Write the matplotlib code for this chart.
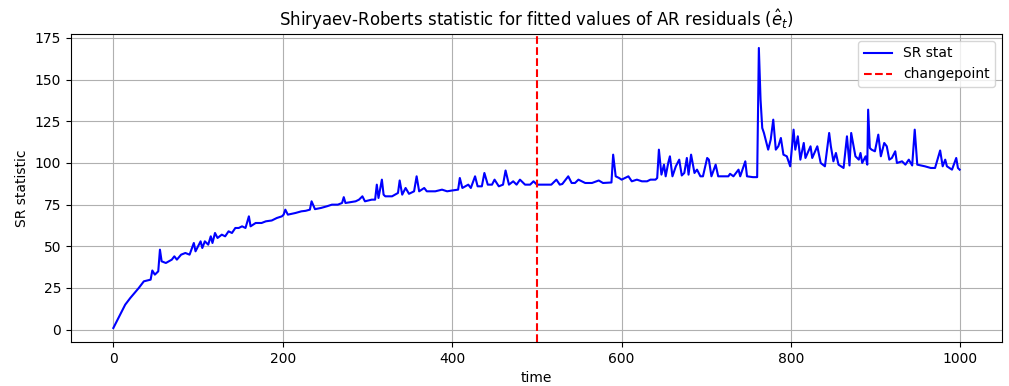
import matplotlib
matplotlib.use("Agg")
import matplotlib.pyplot as plt

# SR statistic (time, value)
time = [0, 5, 10, 14, 20, 25, 30, 36, 44, 46, 49, 53, 55, 57, 62, 69, 72, 75, 80, 85,
        90, 95, 97, 100, 103, 105, 108, 112, 115, 117, 120, 123, 128, 132, 136, 140, 144, 148, 152, 156,
        160, 162, 168, 175, 180, 187, 193, 199, 201, 203, 206, 215, 222, 227, 232, 234, 238, 245, 252, 258,
        265, 270, 272, 274, 280, 286, 290, 294, 297, 305, 309, 311, 313, 317, 319, 321, 329, 336, 338, 341,
        345, 349, 355, 358, 361, 367, 370, 374, 380, 384, 388, 394, 400, 407, 409, 412, 419, 422, 427, 430,
        435, 438, 442, 447, 450, 455, 460, 463, 467, 472, 476, 480, 486, 492, 496, 500, 510, 517, 523, 527,
        530, 537, 541, 545, 549, 557, 565, 573, 578, 588, 590, 593, 597, 600, 604, 608, 612, 618, 624, 630,
        634, 640, 642, 644, 647, 650, 652, 655, 657, 660, 664, 668, 671, 674, 677, 679, 682, 686, 689, 693,
        696, 701, 703, 706, 711, 714, 720, 726, 728, 732, 738, 740, 746, 748, 755, 760, 762, 764, 766, 768,
        770, 773, 776, 779, 782, 785, 788, 791, 795, 799, 803, 805, 808, 811, 815, 817, 823, 825, 831, 835,
        840, 845, 847, 850, 853, 856, 862, 866, 869, 871, 876, 880, 882, 884, 888, 890, 891, 893, 895, 899,
        903, 906, 910, 913, 916, 919, 923, 925, 931, 935, 939, 943, 946, 949, 958, 965, 970, 976, 979, 982,
        984, 990, 995, 997, 999]
sr_stat = [1, 6, 11, 15, 19, 22, 25, 29, 30, 35.5, 33, 35, 48, 41, 40, 42, 44, 42, 45, 46,
           45, 52, 47, 50, 53, 49, 53, 51, 56, 52, 58, 55, 57, 56, 59, 58, 61, 61, 62, 61,
           68, 62, 64, 64, 65, 65.5, 67, 68, 69, 72, 69, 70, 71, 71.3, 72, 77, 72.3, 73, 74, 75,
           75, 76, 79.5, 76, 76.5, 77, 78, 80, 77, 78, 78, 87, 79, 90, 81, 80, 80, 82, 89.5, 81,
           85, 81.5, 83, 92, 83, 85, 83, 83, 83, 83.5, 84, 83, 83.5, 84, 91, 85, 87, 85, 92, 86,
           86, 94, 87, 87, 90, 86, 87, 95.5, 87, 89, 87, 90, 87, 87, 89, 87, 87, 87, 90, 87,
           87.4, 92, 88, 88, 90, 88, 88, 89.5, 88, 88.3, 105, 92, 91, 90, 91, 92, 89, 90, 89, 89,
           90, 90, 91, 108, 93, 99, 92, 100, 104, 92, 98, 102, 92.5, 94, 103, 93, 105, 94, 96, 92,
           92, 103, 102, 92, 99, 92, 92, 92, 93.5, 92, 96, 92, 101, 92, 91.5, 91.5, 169, 138, 121, 118,
           114, 108, 114, 126, 108, 110, 115, 105, 104, 98, 120, 108, 116, 102, 112, 103, 110, 103, 110, 100,
           98, 118, 110, 101, 106, 99, 97, 116, 98.5, 118, 104, 102, 106, 100, 104, 99, 132, 109, 108, 107,
           117, 104, 112, 110, 102, 103, 107, 100, 101, 99, 102, 98.5, 120, 99, 98, 97, 97, 107.5, 98, 102,
           98, 96, 103, 97, 96]
changepoint = 500

fig = plt.figure(figsize=(10.09, 3.86), dpi=100)
ax = fig.add_axes([0.0704, 0.114, 0.9226, 0.798])

ax.plot(time, sr_stat, color="blue", label="SR stat")
ax.axvline(changepoint, color="red", linestyle="--", label="changepoint")

ax.set_title(r"Shiryaev-Roberts statistic for fitted values of AR residuals ($\hat{e}_t$)")
ax.set_xlabel("time")
ax.set_ylabel("SR statistic")
ax.grid(True)
ax.legend(loc="upper right")

fig.savefig("out.png", dpi=100)
